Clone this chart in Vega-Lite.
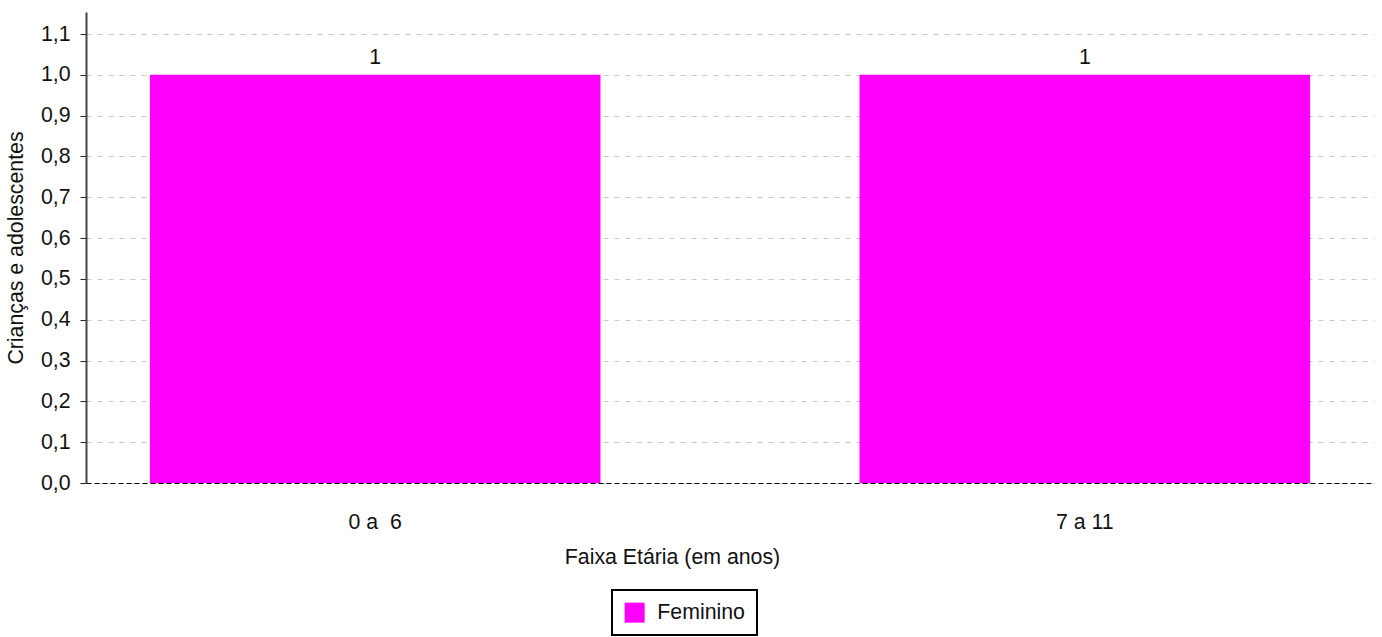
{
  "$schema": "https://vega.github.io/schema/vega-lite/v6.json",
  "width": 1288,
  "height": 471,
  "autosize": {"type": "none"},
  "padding": {"left": 86, "top": 12, "right": 8, "bottom": 154},
  "background": "white",
  "config": {
    "font": "Liberation Sans",
    "view": {"stroke": null},
    "axis": {"labelFont": "Liberation Sans", "titleFont": "Liberation Sans", "labelColor": "#111", "titleColor": "#111", "titleFontWeight": "normal"},
    "legend": {"strokeColor": "#000", "padding": 12, "fillColor": "white", "labelFont": "Liberation Sans"}
  },
  "data": {"values": [
    {"faixa": "0 a \u00a06", "sexo": "Feminino", "valor": 1},
    {"faixa": "7 a 11", "sexo": "Feminino", "valor": 1}
  ]},
  "encoding": {
    "x": {"field": "faixa", "type": "nominal", "sort": null,
      "scale": {"paddingInner": 0.365, "paddingOuter": 0.09},
      "axis": {"title": "Faixa Etária (em anos)", "labelAngle": 0, "ticks": false, "labelFontSize": 21.3, "titleFontSize": 21.3, "labelPadding": 28, "titlePadding": 14, "titleX": 586, "titleAlign": "center", "domainColor": "#000", "domainDash": [5, 3], "domainWidth": 1, "labelBaseline": "top"}},
    "y": {"field": "valor", "type": "quantitative",
      "scale": {"domain": [0, 1.154], "nice": false, "zero": true},
      "axis": {"title": "Crianças e adolescentes", "values": [0, 0.1, 0.2, 0.3, 0.4, 0.5, 0.6, 0.7, 0.8, 0.9, 1.0, 1.1],
        "labelExpr": "replace(format(datum.value, '.1f'), '.', ',')",
        "labelFontSize": 21.3, "titleFontSize": 21.3, "tickSize": 6, "tickColor": "#222", "domainColor": "#444", "domainWidth": 2,
        "gridColor": "#c8c8c8", "gridDash": [5, 6], "grid": true, "labelPadding": 10, "titlePadding": 14}}
  },
  "layer": [
    {"mark": {"type": "bar", "color": "#ff00ff"},
      "encoding": {"color": {"field": "sexo", "type": "nominal", "scale": {"range": ["#ff00ff"]},
        "legend": {"title": null, "orient": "none", "legendX": 526, "legendY": 578, "symbolType": "square", "symbolSize": 400, "symbolStrokeWidth": 0, "labelFontSize": 21.3, "labelColor": "#111", "labelOffset": 12,
          "encode": {"legend": {"update": {"strokeWidth": {"value": 2}}}}}}}},
    {"mark": {"type": "text", "baseline": "bottom", "dy": -7, "fontSize": 21.3, "font": "Liberation Sans", "color": "#111"},
      "encoding": {"text": {"field": "valor", "type": "quantitative"}}}
  ]
}
